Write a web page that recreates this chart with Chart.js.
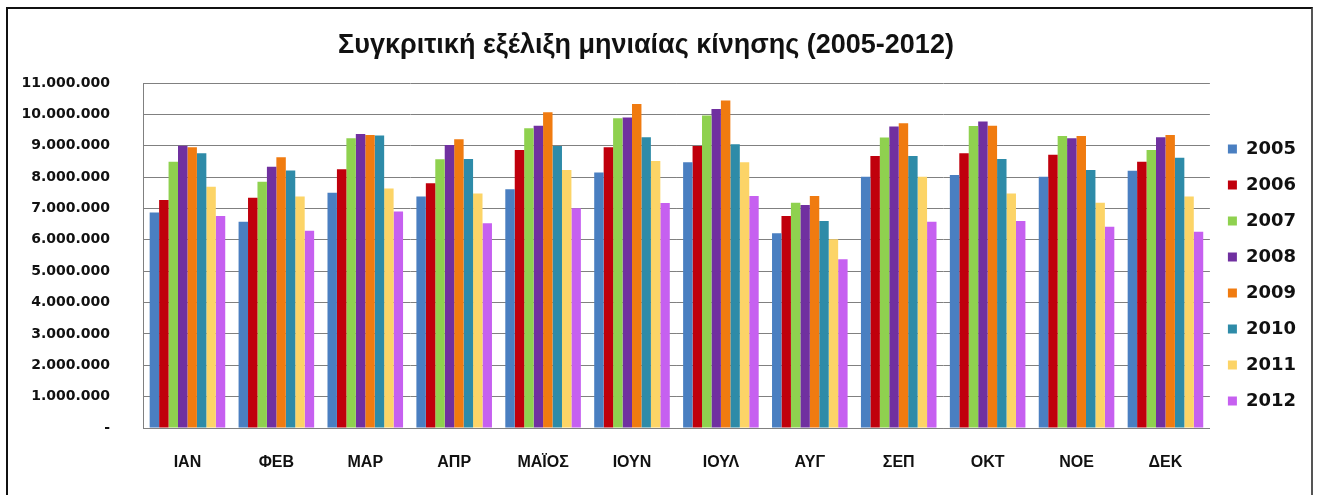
<!DOCTYPE html>
<html>
<head>
<meta charset="utf-8">
<script src="https://cdn.jsdelivr.net/npm/chart.js@4"></script>
<style>
  html, body { margin: 0; padding: 0; background: #fff; }
  #wrap { position: relative; width: 1320px; height: 495px; }
  #frame {
    position: absolute; left: 6px; top: 7px; width: 1303px; height: 500px;
    border: 2px solid #111; border-right-color: #555; pointer-events: none;
  }
</style>
</head>
<body>
<div id="wrap">
  <canvas id="barChart" width="1320" height="495"></canvas>
  <div id="frame"></div>
</div>
<script>
const chartTitle = 'Συγκριτική εξέλιξη μηνιαίας κίνησης (2005-2012)';
const months = ['ΙΑΝ', 'ΦΕΒ', 'ΜΑΡ', 'ΑΠΡ', 'ΜΑΪΟΣ', 'ΙΟΥΝ', 'ΙΟΥΛ', 'ΑΥΓ', 'ΣΕΠ', 'ΟΚΤ', 'ΝΟΕ', 'ΔΕΚ'];
const years = ['2005', '2006', '2007', '2008', '2009', '2010', '2011', '2012'];

const y2005 = [6870000, 6580000, 7500000, 7380000, 7610000, 8150000, 8470000, 6210000, 8010000, 8070000, 8010000, 8200000];
const y2006 = [7270000, 7340000, 8250000, 7800000, 8860000, 8950000, 8990000, 6760000, 8670000, 8760000, 8710000, 8490000];
const y2007 = [8490000, 7850000, 9240000, 8570000, 9560000, 9880000, 9960000, 7180000, 9260000, 9630000, 9310000, 8860000];
const y2008 = [9000000, 8330000, 9370000, 9020000, 9640000, 9900000, 10170000, 7110000, 9610000, 9770000, 9240000, 9270000];
const y2009 = [8950000, 8630000, 9340000, 9210000, 10070000, 10330000, 10440000, 7400000, 9720000, 9640000, 9310000, 9340000];
const y2010 = [8760000, 8210000, 9330000, 8580000, 8990000, 9270000, 9050000, 6600000, 8670000, 8580000, 8230000, 8620000];
const y2011 = [7690000, 7380000, 7640000, 7480000, 8230000, 8510000, 8470000, 6020000, 8010000, 7480000, 7180000, 7380000];
const y2012 = [6760000, 6290000, 6900000, 6530000, 7010000, 7170000, 7400000, 5380000, 6580000, 6600000, 6420000, 6260000];

const series = [y2005, y2006, y2007, y2008, y2009, y2010, y2011, y2012];
const colors = ['#4a7fc1', '#c0000c', '#8fd14f', '#7030a0', '#f07b10', '#2e8ba8', '#fcd467', '#c660f0'];

// 1.000.000 style thousands, dash for zero
function fmt(v) {
  if (v === 0) return '-';
  return String(v).replace(/\B(?=(\d{3})+(?!\d))/g, '.');
}

// title sits a bit left of the canvas centre, so draw it ourselves
const titlePlugin = {
  id: 'topTitle',
  afterDraw(chart) {
    const c = chart.ctx;
    c.save();
    c.font = "bold 27px 'Liberation Sans', Arial";
    c.fillStyle = '#111';
    c.textAlign = 'center';
    c.textBaseline = 'middle';
    c.fillText(chartTitle, 646, 46);
    c.restore();
  }
};

document.addEventListener('DOMContentLoaded', () => {
  const ctx = document.getElementById('barChart');
  new Chart(ctx, {
    type: 'bar',
    data: {
      labels: months,
      datasets: series.map((d, i) => ({
        label: years[i],
        data: d,
        backgroundColor: colors[i],
        borderWidth: 0
      }))
    },
    plugins: [titlePlugin],
    options: {
      responsive: false,
      animation: false,
      layout: { padding: { left: 21, right: 14, top: 83, bottom: 23 } },
      datasets: { bar: { categoryPercentage: 0.85, barPercentage: 1.0 } },
      plugins: {
        title: { display: false },
        legend: {
          position: 'right',
          align: 'end',
          fullSize: false,
          labels: {
            color: '#111',
            boxWidth: 9,
            boxHeight: 9,
            padding: 18,
            font: { family: "'DejaVu Sans'", size: 18, weight: 'bold' }
          }
        },
        tooltip: { enabled: false }
      },
      scales: {
        x: {
          grid: { display: false, drawTicks: false },
          border: { color: '#808080' },
          ticks: {
            color: '#111',
            padding: 25,
            font: { family: "'Liberation Sans', Arial", size: 16, weight: 'bold' }
          },
          afterFit: (scale) => { scale.height = 44; }
        },
        y: {
          min: 0,
          max: 11000000,
          grid: { color: '#808080', drawTicks: false },
          border: { color: '#808080' },
          ticks: {
            stepSize: 1000000,
            color: '#111',
            padding: 33,
            font: { family: "'DejaVu Sans'", size: 14, weight: 'bold' },
            callback: (v) => fmt(v)
          },
          afterFit: (scale) => { scale.width = 122; }
        }
      }
    }
  });
});
</script>
</body>
</html>
